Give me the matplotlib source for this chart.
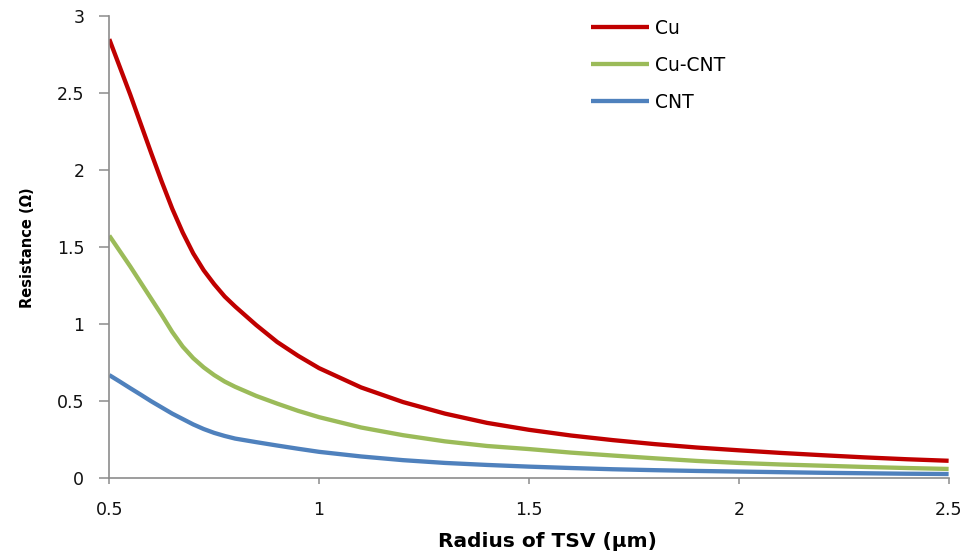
import matplotlib
matplotlib.use("Agg")
import matplotlib.pyplot as plt

# radius of TSV (um) and resistance (ohm)
radius = [0.5, 0.525, 0.55, 0.575, 0.6, 0.625, 0.65, 0.675, 0.7, 0.725, 0.75,
          0.775, 0.8, 0.85, 0.9, 0.95, 1.0,
          1.1, 1.2, 1.3, 1.4, 1.5, 1.6, 1.7, 1.8, 1.9, 2.0,
          2.1, 2.2, 2.3, 2.4, 2.5]
cu = [2.85, 2.67, 2.49, 2.30, 2.11, 1.925, 1.75, 1.595, 1.46, 1.35, 1.26,
      1.18, 1.115, 0.995, 0.885, 0.795, 0.715,
      0.59, 0.495, 0.42, 0.36, 0.315, 0.278, 0.248, 0.222, 0.2, 0.182,
      0.165, 0.15, 0.136, 0.124, 0.114]
cu_cnt = [1.575, 1.475, 1.375, 1.27, 1.165, 1.06, 0.95, 0.855, 0.78, 0.72, 0.67,
          0.628, 0.594, 0.535, 0.485, 0.438, 0.397,
          0.33, 0.28, 0.24, 0.21, 0.19, 0.167, 0.148, 0.13, 0.113, 0.1,
          0.09, 0.082, 0.074, 0.067, 0.061]
cnt = [0.67, 0.628, 0.585, 0.543, 0.50, 0.46, 0.42, 0.385, 0.35, 0.32, 0.295,
       0.275, 0.258, 0.235, 0.213, 0.192, 0.172,
       0.142, 0.118, 0.1, 0.087, 0.076, 0.067, 0.059, 0.053, 0.048, 0.044,
       0.04, 0.036, 0.033, 0.03, 0.028]

series = [("Cu", cu, "#C00000"),
          ("Cu-CNT", cu_cnt, "#9BBB59"),
          ("CNT", cnt, "#4F81BD")]

fig = plt.figure(figsize=(9.67, 5.53), dpi=100)
ax = fig.add_axes([0.113, 0.135, 0.868, 0.836])

for name, vals, col in series:
    ax.plot(radius, vals, color=col, lw=3.1, label=name,
            solid_capstyle="butt", solid_joinstyle="round")

ax.set_xlim(0.5, 2.5)
ax.set_ylim(0, 3)
ax.set_xticks([0.5, 1, 1.5, 2, 2.5])
ax.set_xticklabels(["0.5", "1", "1.5", "2", "2.5"])
ax.set_yticks([0, 0.5, 1, 1.5, 2, 2.5, 3])
ax.set_yticklabels(["0", "0.5", "1", "1.5", "2", "2.5", "3"])

for s in ["top", "right"]:
    ax.spines[s].set_visible(False)
for s in ["left", "bottom"]:
    ax.spines[s].set_color("#8c8c8c")
    ax.spines[s].set_linewidth(1.2)

ax.tick_params(axis="y", length=7, width=1.1, color="#8c8c8c", pad=11,
               labelsize=12.5, labelcolor="#111111")
ax.tick_params(axis="x", length=4.5, width=1.1, color="#8c8c8c", pad=12,
               labelsize=12.5, labelcolor="#111111")

ax.set_xlabel("Radius of TSV (μm)", fontsize=14.5, fontweight="bold")
ax.xaxis.set_label_coords(0.5226, -0.1356)
ax.xaxis.label.set_verticalalignment("center")
ax.set_ylabel("Resistance (Ω)", fontsize=10.5, fontweight="bold")
ax.yaxis.set_label_coords(-0.098, 0.5)
ax.yaxis.label.set_verticalalignment("center")

ax.legend(loc="upper left", bbox_to_anchor=(591 / 967, 1 - 19 / 553),
          bbox_transform=fig.transFigure, frameon=False, fontsize=13.5,
          handlelength=3.1, handletextpad=0.3, labelspacing=0.95,
          borderpad=0, borderaxespad=0)

fig.savefig("out.png", dpi=100)
